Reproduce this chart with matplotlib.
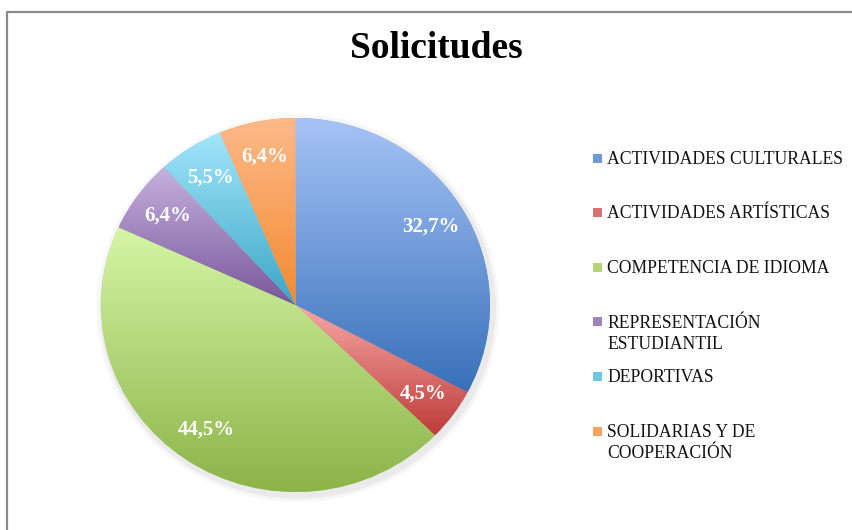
import numpy as np
import matplotlib.pyplot as plt
from matplotlib.colors import to_rgb
from matplotlib.patches import Ellipse, Rectangle
from matplotlib.lines import Line2D

categorias = ['ACTIVIDADES CULTURALES', 'ACTIVIDADES ARTÍSTICAS', 'COMPETENCIA DE IDIOMA',
              'REPRESENTACIÓN\nESTUDIANTIL', 'DEPORTIVAS', 'SOLIDARIAS Y DE\nCOOPERACIÓN']
solicitudes = [36, 5, 49, 7, 6, 7]

# degradado de cada sector: (arriba, abajo)
colores_arriba = ['#A6C4F7', '#F6A9A6', '#D5F5A6', '#C6B1DE', '#A2E6FC', '#FDB98A']
colores_abajo = ['#3870B9', '#BE3B39', '#8CB448', '#77579A', '#3CA6C4', '#F38A30']

fuente = 'Liberation Serif'

def degradado(arriba, abajo, n=256):
    a = np.array(to_rgb(arriba))
    b = np.array(to_rgb(abajo))
    t = np.linspace(0, 1, n)[:, None]
    return (b + (a - b) * t)[:, None, :]

def mezcla(c1, c2):
    return tuple((np.array(to_rgb(c1)) + np.array(to_rgb(c2))) / 2)

fig = plt.figure(figsize=(8.53, 5.30), dpi=100)
W, H = 853, 530

ax = fig.add_axes([101 / W, (H - 492) / H, 389 / W, 374 / H])

wedges, textos, pct = ax.pie(
    solicitudes, startangle=90, counterclock=False,
    colors=[mezcla(a, b) for a, b in zip(colores_arriba, colores_abajo)],
    autopct=lambda p: f'{p:.1f}%'.replace('.', ','), pctdistance=0.81,
    wedgeprops=dict(linewidth=0),
    textprops=dict(color='white', fontsize=15, fontweight='bold', family=fuente))

# sombra suave alrededor de la tarta
for d, al in [(1.035, 0.06), (1.018, 0.10)]:
    ax.add_patch(Ellipse((0.012, -0.018), 2 * d, 2 * d, facecolor='#808080',
                         edgecolor='none', alpha=al, zorder=0, clip_on=False))

for w, ca, cb in zip(wedges, colores_arriba, colores_abajo):
    ext = w.get_path().get_extents()
    im = ax.imshow(degradado(ca, cb), extent=[ext.x0, ext.x1, ext.y0, ext.y1],
                   origin='lower', aspect='auto', interpolation='bilinear', zorder=2)
    im.set_clip_path(w)

for t in pct:
    t.set_zorder(5)

ax.set_xlim(-1, 1)
ax.set_ylim(-1, 1)
ax.set_aspect('auto')
ax.axis('off')

fig.text(436 / W, 1 - 58 / H, 'Solicitudes', ha='center', va='baseline',
         fontsize=27, fontweight='bold', family=fuente)

# leyenda
y0, paso, interlinea = 158, 54.6, 21.5
for i, (nombre, ca, cb) in enumerate(zip(categorias, colores_arriba, colores_abajo)):
    yc = y0 + i * paso
    fig.patches.append(Rectangle((593 / W, 1 - (yc + 4.5) / H), 9 / W, 9 / H,
                                 facecolor=mezcla(ca, cb), edgecolor='none',
                                 transform=fig.transFigure))
    for j, linea in enumerate(nombre.split('\n')):
        fig.text(607 / W, 1 - (yc + 5.8 + j * interlinea) / H, linea, ha='left',
                 va='baseline', fontsize=12.7, family=fuente, color='#111111')

# marco
fig.lines.append(Line2D([7.5 / W, 7.5 / W, 1], [0, 1 - 11.5 / H, 1 - 11.5 / H],
                        color='#8a8a8a', linewidth=1.6, transform=fig.transFigure))

fig.savefig('out.png', dpi=100)
